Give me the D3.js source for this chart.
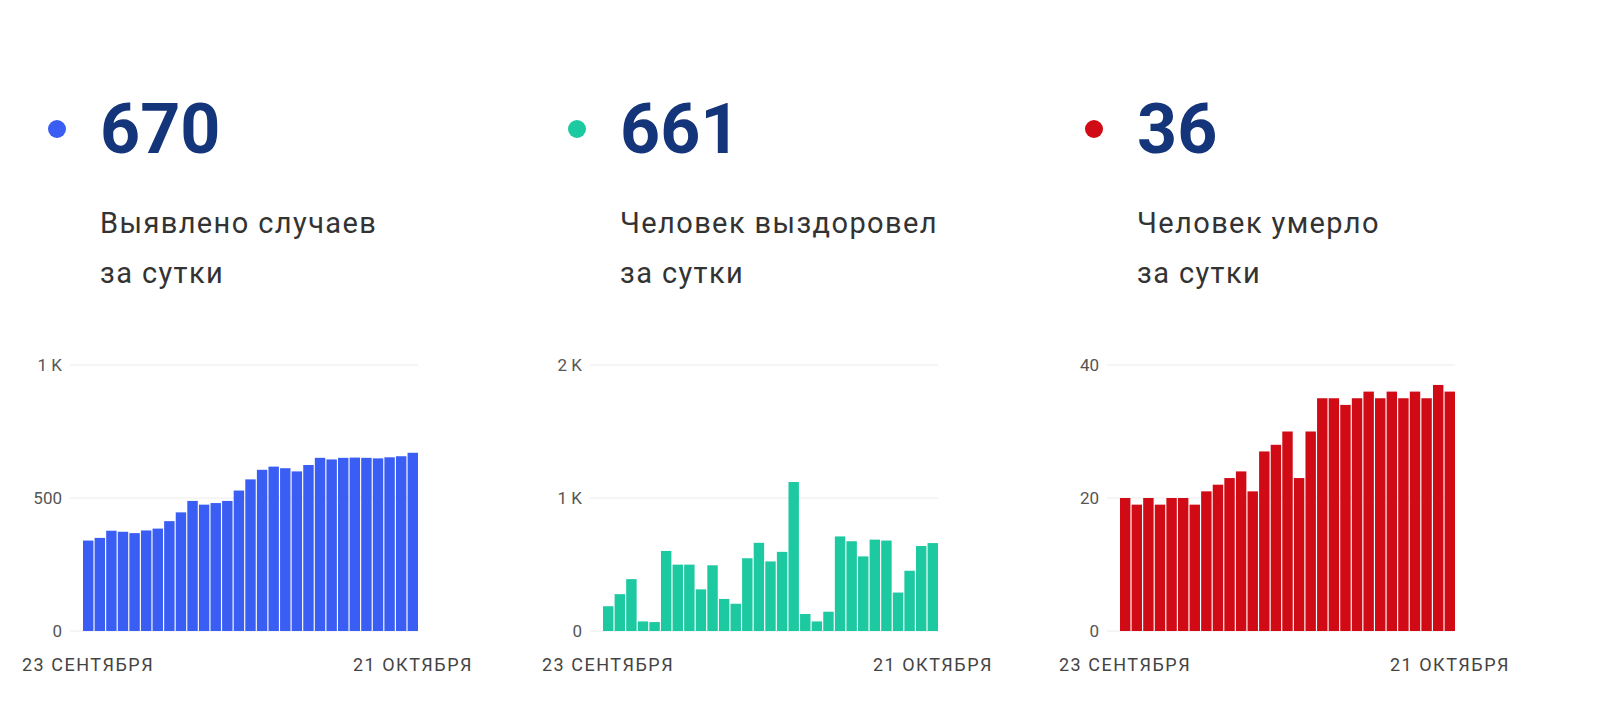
<!DOCTYPE html>
<html><head><meta charset="utf-8">
<script src="https://cdn.jsdelivr.net/npm/d3@7"></script>
<style>body{margin:0;background:#fff;font-family:Roboto,"Noto Sans",sans-serif}</style>
</head><body><svg id="c" width="1600" height="709"></svg>
<script>
// daily values, 23 Sep .. 21 Oct
const cases = [340,350,377,373,368,378,385,413,446,489,475,481,489,528,570,606,618,612,600,624,651,645,651,652,651,649,653,657,670];
const recovered = [186,277,390,72,67,602,499,499,313,494,241,205,547,663,523,595,1120,128,72,145,711,675,561,687,680,289,453,639,661];
const deaths = [20,19,20,19,20,20,19,21,22,23,24,21,27,28,30,23,30,35,35,34,35,36,35,36,35,36,35,37,36];
const headers = ["670","661","36"];
const subtitles = [["Выявлено случаев","за сутки"],["Человек выздоровел","за сутки"],["Человек умерло","за сутки"]];
const yTicks = [[0,500,1000],[0,1000,2000],[0,20,40]];
const tickFmt = [v => v >= 1000 ? v/1000 + " K" : v, v => v >= 1000 ? v/1000 + " K" : v, v => v];
const colors = ["#3a5ef3","#1dc9a0","#d10b15"];
const dateLabels = ["23 СЕНТЯБРЯ","21 ОКТЯБРЯ"];

const svg = d3.select("#c");
const series = [cases, recovered, deaths];
const offsets = [0, 520, 1037];

series.forEach((data, k) => {
  const g = svg.append("g").attr("transform", `translate(${offsets[k]},0)`);
  g.append("circle").attr("cx", 57).attr("cy", 129).attr("r", 9).attr("fill", colors[k]);
  g.append("text").attr("x", 100).attr("y", 153).attr("font-size", 70).attr("font-weight", 700)
    .attr("fill", "#15357a").text(headers[k]);
  subtitles[k].forEach((s, i) => g.append("text").attr("x", 100).attr("y", 233 + i * 50)
    .attr("font-size", 29).attr("textLength", null).style("letter-spacing", "1.4px")
    .attr("fill", "#333").text(s));

  const x = d3.scaleBand().domain(d3.range(data.length)).range([83, 418]).paddingInner(0.1);
  const y = d3.scaleLinear().domain([0, yTicks[k][2]]).range([631, 365]);

  g.append("g").selectAll("line").data(yTicks[k]).join("line")
    .attr("x1", 70).attr("x2", 418).attr("y1", d => y(d)).attr("y2", d => y(d))
    .attr("stroke", "#ececec");
  g.append("g").selectAll("text").data(yTicks[k]).join("text")
    .attr("x", 62).attr("y", d => y(d) + 6).attr("text-anchor", "end")
    .attr("font-size", 17).attr("fill", "#555").text(tickFmt[k]);

  g.append("g").selectAll("rect").data(data).join("rect")
    .attr("x", (d, i) => x(i)).attr("width", x.bandwidth())
    .attr("y", d => y(d)).attr("height", d => y(0) - y(d)).attr("fill", colors[k]);

  g.append("text").attr("x", 22).attr("y", 671).attr("font-size", 18).style("letter-spacing", "1.5px")
    .attr("fill", "#444").text(dateLabels[0]);
  g.append("text").attr("x", 473).attr("y", 671).attr("text-anchor", "end").attr("font-size", 18)
    .style("letter-spacing", "1.5px").attr("fill", "#444").text(dateLabels[1]);
});
</script></body></html>
